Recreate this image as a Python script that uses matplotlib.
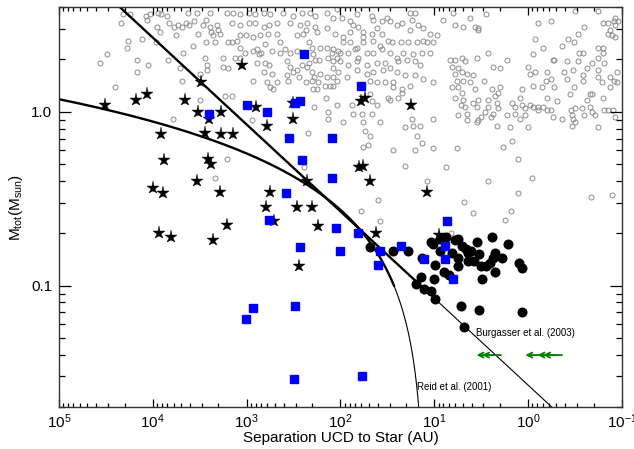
import numpy as np
import matplotlib
matplotlib.use('Agg')
import matplotlib.pyplot as plt
from matplotlib.ticker import LogLocator, FuncFormatter, NullFormatter

plt.rcParams['font.family'] = ['Liberation Sans', 'DejaVu Sans']
plt.rcParams['mathtext.fontset'] = 'custom'
plt.rcParams['mathtext.rm'] = 'Liberation Sans'
plt.rcParams['mathtext.it'] = 'Liberation Sans:italic'
plt.rcParams['mathtext.default'] = 'regular'

# values are log10(separation / AU), log10(M_tot / M_sun)

# wide companions (black stars)
stars = [(4.51, 0.04), (4.18, 0.07), (4.06, 0.10), (3.91, -0.13), (3.88, -0.28),
         (4.00, -0.44), (3.89, -0.47), (3.66, 0.07), (3.52, 0.00), (3.49, 0.17),
         (3.44, -0.12), (3.41, -0.27), (3.38, -0.30), (3.40, -0.04), (3.53, -0.40),
         (3.27, 0.00), (3.27, -0.13), (3.28, -0.46), (3.15, -0.13), (3.05, 0.27),
         (3.21, -0.65), (3.93, -0.70), (3.81, -0.72), (3.36, -0.74), (2.90, 0.03),
         (2.78, -0.08), (2.79, -0.55), (2.75, -0.46), (2.71, -0.63), (2.51, 0.05),
         (2.51, -0.04), (2.46, -0.55), (2.30, -0.55), (2.36, -0.40), (2.24, -0.66),
         (2.44, -0.89), (1.74, 0.08), (1.78, 0.06), (1.25, 0.04), (1.80, -0.32),
         (1.76, -0.31), (1.68, -0.40), (1.08, -0.46), (1.62, -0.70), (0.95, -0.71)]

# blue squares
squares = [(2.39, 0.33), (3.00, 0.04), (3.40, -0.01), (2.78, 0.00), (2.43, 0.06),
           (2.48, 0.05), (2.55, -0.15), (2.41, -0.28), (2.58, -0.47), (2.76, -0.62),
           (1.78, 0.15), (2.09, -0.15), (2.09, -0.38), (2.05, -0.67), (1.81, -0.70),
           (2.01, -0.80), (1.58, -0.80), (1.60, -0.88), (1.35, -0.77), (0.86, -0.63),
           (1.11, -0.85), (0.89, -0.77), (0.89, -0.85), (0.80, -0.96), (2.43, -0.78),
           (2.93, -1.13), (3.01, -1.19), (2.48, -1.12), (2.49, -1.54), (1.77, -1.52)]

# close binaries (black dots)
dots = [(1.68, -0.78), (1.44, -0.80), (1.28, -0.80), (1.13, -0.84), (0.99, -0.88),
        (1.14, -0.95), (1.19, -0.99), (1.11, -1.02), (1.03, -1.03), (0.99, -1.08),
        (1.00, -0.96), (0.90, -0.92), (0.84, -0.94), (1.03, -0.75), (1.01, -0.76),
        (0.94, -0.73), (0.87, -0.72), (0.94, -0.80), (0.78, -0.74), (0.75, -0.73),
        (0.70, -0.77), (0.66, -0.79), (0.64, -0.81), (0.61, -0.80), (0.55, -0.75),
        (0.52, -0.82), (0.75, -0.84), (0.75, -0.89), (0.64, -0.86), (0.50, -0.89),
        (0.45, -0.89), (0.41, -0.87), (0.37, -0.84), (0.35, -0.81), (0.38, -0.72),
        (0.21, -0.76), (0.28, -0.84), (0.35, -0.92), (0.49, -0.96), (0.10, -0.87),
        (0.06, -0.90), (0.72, -1.12), (0.52, -1.14), (0.06, -1.15), (0.68, -1.24),
        (0.81, -0.81), (0.58, -0.86)]

# field binaries (grey open circles)
field = [
    (4.32, 0.56), (4.24, 0.56), (4.34, 0.51), (4.26, 0.41), (4.28, 0.37), (4.12, 0.42),
    (4.49, 0.33), (4.56, 0.28), (4.17, 0.30), (4.17, 0.23), (4.05, 0.27), (4.40, 0.14),
    (4.07, 0.55), (4.03, 0.56), (4.06, 0.53), (3.94, 0.57), (3.91, 0.56), (3.85, 0.55),
    (3.96, 0.49), (3.92, 0.46), (3.83, 0.51), (3.77, 0.49), (3.73, 0.50), (3.69, 0.49),
    (3.65, 0.51), (3.75, 0.44), (3.97, 0.40), (3.68, 0.34), (3.84, 0.30), (3.71, 0.25),
    (3.69, 0.18), (3.63, 0.57), (3.78, -0.04),
    (3.61, 0.50), (3.56, 0.52), (3.52, 0.45), (3.39, 0.57), (3.47, 0.50), (3.43, 0.53),
    (3.39, 0.49), (3.38, 0.46), (3.32, 0.50), (3.30, 0.47), (3.28, 0.45), (3.36, 0.44),
    (3.34, 0.40), (3.43, 0.40), (3.57, 0.38), (3.50, 0.07), (3.42, 0.27), (3.42, 0.24),
    (3.25, 0.26), (3.20, 0.25), (3.12, 0.31), (3.23, 0.09), (3.16, 0.09), (2.93, 0.18),
    (3.20, 0.40), (3.16, 0.40), (3.10, 0.41), (3.07, 0.44), (3.01, 0.44), (2.93, 0.43),
    (2.86, 0.44), (2.77, 0.45), (2.68, 0.45), (3.07, 0.37), (3.02, 0.34), (2.93, 0.35),
    (2.85, 0.34), (2.73, 0.35), (2.59, 0.36), (2.54, 0.34), (2.46, 0.44), (2.40, 0.45),
    (2.30, 0.37), (2.27, 0.30), (2.30, 0.23), (2.37, 0.17), (2.44, 0.20), (2.54, 0.26),
    (2.57, 0.21), (2.56, 0.18), (2.68, 0.17), (2.72, 0.13), (2.73, 0.22), (2.78, 0.17),
    (2.82, 0.23), (2.25, 0.13), (2.28, 0.03), (2.35, -0.12), (2.39, -0.32), (3.21, -0.27),
    (3.34, -0.38), (3.50, 0.22), (3.21, 0.57), (3.15, 0.57), (3.07, 0.56), (2.98, 0.57),
    (2.91, 0.56), (2.82, 0.57), (2.75, 0.56), (2.61, 0.57), (2.51, 0.55), (2.41, 0.57),
    (2.32, 0.57), (2.27, 0.55), (3.16, 0.51), (3.07, 0.50), (2.98, 0.51), (2.91, 0.51),
    (2.82, 0.49), (2.76, 0.50), (2.68, 0.51), (2.54, 0.51), (2.43, 0.50), (2.37, 0.47),
    (2.27, 0.49), (2.57, 0.29), (2.51, 0.23), (2.41, 0.27), (2.33, 0.28), (2.28, 0.20),
    (2.14, 0.57), (2.08, 0.54), (2.04, 0.59), (2.36, 0.51), (2.25, 0.46), (2.14, 0.48),
    (2.06, 0.45), (2.33, 0.40), (2.22, 0.37), (2.14, 0.37), (2.09, 0.34), (2.03, 0.35),
    (2.29, 0.33), (2.23, 0.30), (2.13, 0.31), (2.08, 0.29), (2.04, 0.31), (2.36, 0.26),
    (2.22, 0.22), (2.14, 0.20), (2.08, 0.25), (2.08, 0.20), (2.30, 0.18), (2.24, 0.17),
    (2.16, 0.15), (2.08, 0.15), (2.29, 0.13), (2.15, 0.08), (2.04, 0.04), (2.13, -0.04),
    (2.94, -0.05), (2.89, 0.36), (3.07, 0.31), (2.87, 0.33), (2.75, 0.14), (2.76, 0.27),
    (3.44, 0.31), (3.25, 0.31), (2.89, 0.28), (2.80, 0.28), (2.46, 0.24), (2.64, 0.40),
    (2.80, 0.39), (2.64, 0.34), (2.46, 0.35), (3.53, 0.57),
    (1.98, 0.54), (1.90, 0.52), (1.82, 0.56), (1.66, 0.55), (1.65, 0.53), (1.56, 0.52),
    (1.50, 0.54), (1.47, 0.52), (1.40, 0.50), (1.34, 0.51), (1.26, 0.57), (1.21, 0.57),
    (1.24, 0.53), (1.17, 0.50), (1.26, 0.47), (1.12, 0.48), (1.05, 0.45), (0.97, 0.44),
    (0.80, 0.57), (0.91, 0.53), (0.78, 0.50), (0.69, 0.49), (0.62, 0.54), (0.57, 0.49),
    (0.53, 0.47), (1.97, 0.43), (1.90, 0.46), (1.87, 0.50), (1.81, 0.49), (1.76, 0.46),
    (1.76, 0.43), (1.66, 0.45), (1.61, 0.48), (1.56, 0.45), (1.90, 0.40), (1.97, 0.40),
    (1.82, 0.37), (1.76, 0.40), (1.65, 0.41), (1.58, 0.38), (1.49, 0.41), (1.45, 0.40),
    (1.36, 0.40), (1.28, 0.40), (1.18, 0.40), (1.12, 0.41), (1.08, 0.40), (1.01, 0.40),
    (2.08, 0.36), (2.00, 0.34), (1.92, 0.34), (1.84, 0.36), (1.81, 0.31), (1.72, 0.34),
    (1.65, 0.34), (1.56, 0.36), (1.47, 0.34), (1.40, 0.31), (1.33, 0.34), (1.23, 0.33),
    (1.13, 0.34), (1.05, 0.34), (2.00, 0.29), (1.92, 0.27), (1.82, 0.29), (1.72, 0.27),
    (1.61, 0.28), (1.52, 0.28), (1.47, 0.25), (1.39, 0.29), (1.29, 0.30), (1.21, 0.29),
    (1.15, 0.27), (2.03, 0.23), (1.93, 0.20), (1.82, 0.24), (1.72, 0.22), (1.65, 0.23),
    (1.55, 0.24), (1.40, 0.23), (1.31, 0.21), (1.21, 0.21), (1.12, 0.19), (1.01, 0.17),
    (2.04, 0.18), (1.68, 0.18), (1.61, 0.17), (1.52, 0.17), (1.44, 0.17), (1.44, 0.14),
    (1.34, 0.13), (1.26, 0.15), (2.11, 0.15), (1.88, 0.04), (1.68, 0.10), (1.66, 0.06),
    (1.61, 0.04), (1.49, 0.08), (1.47, 0.07), (1.39, 0.08), (1.34, 0.11), (1.24, -0.04),
    (1.31, -0.09), (1.23, -0.08), (1.15, -0.08), (1.01, -0.04), (1.77, -0.01), (1.66, -0.01),
    (1.58, -0.06), (1.76, -0.06), (1.97, -0.06), (1.87, -0.01), (0.83, 0.30), (0.78, 0.30),
    (0.70, 0.31), (0.67, 0.29), (0.54, 0.31), (0.81, 0.26), (0.75, 0.25), (0.70, 0.23),
    (0.65, 0.22), (0.59, 0.21), (0.78, 0.22), (0.76, 0.18), (0.69, 0.18), (0.62, 0.17),
    (0.81, 0.14), (0.75, 0.14), (0.70, 0.11), (0.78, 0.08), (0.69, 0.07), (0.72, 0.04),
    (0.67, 0.03), (0.59, 0.05), (0.54, 0.03), (0.57, 0.13), (0.65, -0.01), (0.75, -0.02),
    (0.65, -0.05), (0.54, -0.06),
    (0.45, 0.56), (0.53, 0.48), (-0.10, 0.51), (-0.24, 0.52), (-0.60, 0.49), (-0.07, 0.42),
    (-0.16, 0.37), (-0.36, 0.38), (-0.43, 0.42), (-0.49, 0.40), (-0.53, 0.45), (-0.54, 0.34),
    (-0.59, 0.34), (-0.74, 0.37), (-0.80, 0.37), (-0.75, 0.31), (-0.80, 0.34), (-0.85, 0.45),
    (-0.89, 0.44), (-0.93, 0.43), (-0.87, 0.47), (-0.91, 0.52), (-0.96, 0.52), (-0.93, 0.54),
    (-0.80, 0.51), (-0.85, 0.51), (0.43, 0.34), (0.22, 0.30), (0.37, 0.26), (0.30, 0.25),
    (0.47, 0.18), (0.00, 0.26), (-0.02, 0.22), (-0.07, 0.23), (-0.20, 0.23), (-0.19, 0.18),
    (-0.24, 0.19), (-0.28, 0.30), (-0.41, 0.29), (-0.53, 0.29), (-0.38, 0.23), (-0.48, 0.24),
    (-0.58, 0.21), (-0.63, 0.25), (-0.68, 0.28), (-0.75, 0.20), (-0.79, 0.17), (-0.87, 0.20),
    (-0.95, 0.23), (-0.95, 0.17), (-0.41, 0.19), (-0.58, 0.18), (-0.49, 0.14), (-0.45, 0.10),
    (-0.66, 0.10), (-0.05, 0.15), (-0.15, 0.14), (0.06, 0.13), (-0.28, 0.14), (-0.20, 0.08),
    (0.30, 0.14), (0.32, 0.11), (0.39, 0.13), (0.35, 0.09), (0.43, 0.07), (0.53, 0.07),
    (0.43, 0.03), (0.33, 0.05), (0.32, 0.02), (0.46, 0.00), (0.37, -0.01), (0.50, -0.03),
    (0.40, -0.03), (0.53, -0.05), (0.17, 0.05), (0.14, 0.03), (0.06, 0.04), (0.03, 0.02),
    (-0.02, 0.04), (-0.05, 0.03), (-0.11, 0.03), (-0.16, 0.03), (-0.10, 0.01), (0.03, -0.02),
    (0.14, -0.01), (0.22, -0.02), (0.09, -0.04), (-0.20, 0.01), (-0.27, -0.03), (-0.36, -0.04),
    (-0.46, 0.01), (-0.50, 0.02), (-0.57, 0.02), (-0.66, 0.03), (-0.68, 0.00), (-0.60, -0.02),
    (-0.47, -0.02), (-0.48, -0.04), (-0.71, -0.02), (-0.81, 0.01), (-0.85, 0.01), (-0.90, 0.01),
    (-0.93, -0.03), (0.19, -0.09), (0.00, -0.09), (0.33, -0.08), (-0.75, -0.09), (-0.31, 0.06),
    (-0.63, 0.07), (-0.68, 0.10), (-0.80, 0.08), (-0.87, 0.14), (-0.91, 0.18), (-0.75, 0.24),
    (-0.81, 0.28), (-0.27, 0.30), (-0.05, 0.33), (-0.93, 0.50), (-0.74, 0.58), (-0.50, 0.58),
    (0.27, -0.20), (0.17, -0.17), (0.11, -0.27), (-0.04, -0.38), (0.43, -0.40), (0.11, -0.47),
    (0.18, -0.57), (0.25, -0.62), (-0.67, -0.49), (-0.89, -0.48), (0.09, 0.08), (-0.24, 0.01),
    (-0.50, -0.06), (-0.47, -0.08),
    (1.31, -0.31), (1.08, -0.40), (1.01, -0.21), (0.76, -0.21), (0.88, -0.32), (0.68, -0.52),
    (0.59, -0.58), (1.21, -0.22), (1.44, -0.22), (1.60, -0.51), (1.58, -0.63), (1.78, -0.57),
    (1.18, -0.14), (1.13, -0.18), (2.13, 0.00), (1.74, -0.11), (1.68, -0.14), (1.71, -0.19),
    (1.76, -0.20), (0.82, -0.70)]

# objects with only a lower limit on separation (green arrows)
limit_logsep = [0.35, 0.29, -0.17, -0.30, -0.36]
limit_logmass = [-1.40, -1.40, -1.40, -1.40, -1.40]

# published maximum-separation relations
burgasser_a0 = 1400.0             # a_max = 1400 M_tot^2 AU
reid_slope, reid_zero = 3.3, 1.1  # log a_max = 3.3 M_tot + 1.1


def unpack(pairs):
    arr = 10.0 ** np.array(pairs)
    return arr[:, 0], arr[:, 1]


fig = plt.figure(figsize=(6.34, 4.49), dpi=100)
ax = fig.add_axes([0.093, 0.0935, 0.888, 0.8905])

fx, fy = unpack(field)
ax.plot(fx, fy, 'o', ms=3.6, mfc='none', mec='#8c8c8c', mew=0.7, zorder=1)

# relation lines: thick above 0.1 Msun, thin below
m_hi = np.logspace(-1, 0.8, 200)
m_lo = np.logspace(-1.9, -1, 200)
m_reid_hi = np.linspace(0.1, 1.3, 300)
m_reid_lo = np.linspace(0.012, 0.1, 200)
ax.plot(burgasser_a0 * m_hi ** 2, m_hi, 'k-', lw=1.7, zorder=2)
ax.plot(burgasser_a0 * m_lo ** 2, m_lo, 'k-', lw=0.8, zorder=2)
ax.plot(10 ** (reid_slope * m_reid_hi + reid_zero), m_reid_hi, 'k-', lw=1.7, zorder=2)
ax.plot(10 ** (reid_slope * m_reid_lo + reid_zero), m_reid_lo, 'k-', lw=0.8, zorder=2)

dx, dy = unpack(dots)
ax.plot(dx, dy, 'o', ms=6.2, color='black', mec='black', zorder=3)
sx, sy = unpack(stars)
ax.plot(sx, sy, '*', ms=9.5, color='black', mec='black', mew=0.3, zorder=4)
qx, qy = unpack(squares)
ax.plot(qx, qy, 's', ms=6.2, color='#0000ff', mec='#0000ff', zorder=5)

arrow_len = 0.2  # dex
for ls, lm in zip(limit_logsep, limit_logmass):
    ax.annotate('', xy=(10 ** (ls + arrow_len), 10 ** lm), xytext=(10 ** ls, 10 ** lm),
                arrowprops=dict(arrowstyle='->', color='green', lw=1.3,
                                shrinkA=0, shrinkB=0, mutation_scale=9),
                zorder=6)

ax.text(3.55, 0.053, 'Burgasser et al. (2003)', fontsize=7, ha='left', va='center')
ax.text(15.1, 0.026, 'Reid et al. (2001)', fontsize=7, ha='left', va='center')

ax.set_xscale('log')
ax.set_yscale('log')
ax.set_xlim(1e5, 1e-1)
ax.set_ylim(0.02, 4.0)

ax.xaxis.set_major_locator(LogLocator(base=10, numticks=10))
ax.xaxis.set_minor_locator(LogLocator(base=10, subs=np.arange(2, 10), numticks=20))
ax.yaxis.set_major_locator(LogLocator(base=10, numticks=10))
ax.yaxis.set_minor_locator(LogLocator(base=10, subs=np.arange(2, 10), numticks=20))
ax.xaxis.set_major_formatter(FuncFormatter(lambda v, p: '$10^{%d}$' % round(np.log10(v))))
ax.yaxis.set_major_formatter(FuncFormatter(lambda v, p: '1.0' if abs(v - 1) < 1e-6 else ('0.1' if abs(v - 0.1) < 1e-7 else '')))
ax.yaxis.set_minor_formatter(NullFormatter())
ax.xaxis.set_minor_formatter(NullFormatter())

ax.tick_params(which='both', direction='in', top=True, right=True, width=0.9, labelsize=11)
ax.tick_params(axis='x', which='major', length=6, pad=4)
ax.tick_params(axis='x', which='minor', length=3.2)
ax.tick_params(axis='y', which='major', length=8.6, pad=5)
ax.tick_params(axis='y', which='minor', length=4.3)
for sp in ax.spines.values():
    sp.set_linewidth(1.0)
    sp.set_color('#333333')

ax.set_xlabel('Separation UCD to Star (AU)', fontsize=11, labelpad=0)
ax.set_ylabel('M$_{tot}$(M$_{sun}$)', fontsize=11, labelpad=4)

fig.savefig('out.png', dpi=100)
